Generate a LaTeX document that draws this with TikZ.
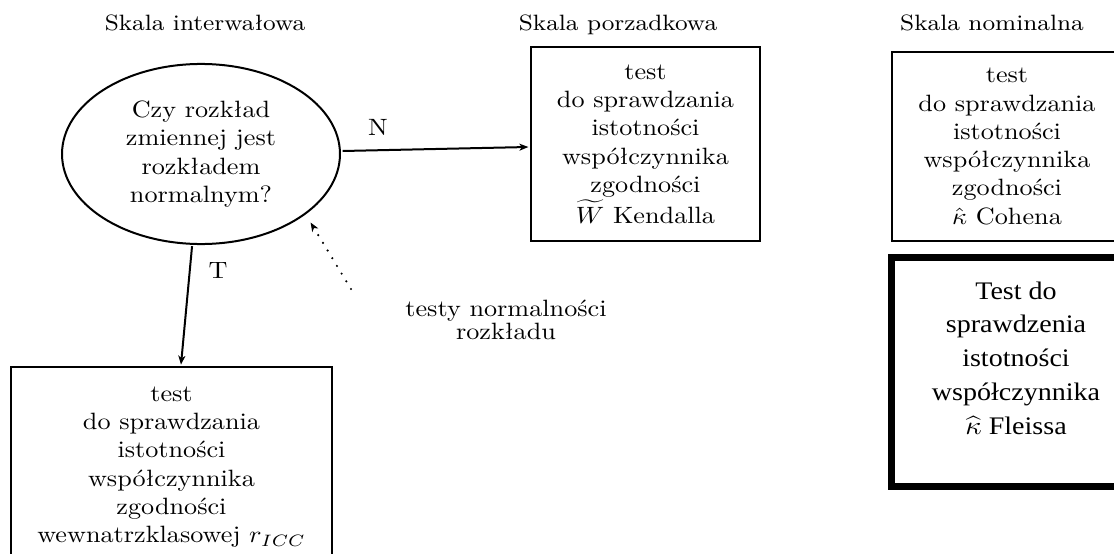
\documentclass[tikz,border=0pt]{standalone}
\usepackage{fontspec}
\usetikzlibrary{arrows.meta,shapes.geometric}
\newfontfamily\fleissfont{Liberation Serif}
\begin{document}
\begin{tikzpicture}[x=1pt,y=-1pt,
  stretched/.style={xscale=2.62,yscale=2.36},
  txt/.style={stretched,align=center,inner sep=0pt,font=\fontsize{10}{12}\selectfont},
  heading/.style={stretched,anchor=base,inner sep=0pt,font=\fontsize{9.4}{11}\selectfont},
  testbox/.style={txt,draw,rectangle,line width=2pt},
  flow/.style={line width=2pt,-{Stealth[length=9pt,width=7pt,inset=2.5pt]}},
  hint/.style={line width=2.4pt,line cap=round,dash pattern=on 0pt off 9pt,
    -{Stealth[length=9pt,width=7pt,inset=2.5pt]}},
]
\useasboundingbox (0,0) rectangle (1114,554);
\clip (0,0) rectangle (1114,554);

% column headings
\node[heading] (tint)  at (205,30) {Skala interwałowa};
\node[heading] (tporz) at (618,30) {Skala porzadkowa};
\node[heading] (tnom)  at (992,30) {Skala nominalna};

% decision
\node[txt,draw,ellipse,line width=2pt,minimum width=106.1pt,minimum height=76.3pt]
  (ell) at (201,154) {Czy rozkład\\ zmiennej jest\\ rozkładem\\ normalnym?};

% tests
\node[testbox,minimum width=87.4pt,minimum height=82.2pt] (porz) at (645.5,144)
  {test\\ do sprawdzania\\ istotności\\ współczynnika\\ zgodności\\ $\widetilde{W}$ Kendalla};
\node[testbox,minimum width=87.8pt,minimum height=80.1pt] (nom) at (1007,146.5)
  {test\\ do sprawdzania\\ istotności\\ współczynnika\\ zgodności\\ $\hat{\kappa}$ Cohena};
\node[testbox,minimum width=122.5pt,minimum height=84.7pt] (icc) at (171.5,467)
  {test\\ do sprawdzania\\ istotności\\ współczynnika\\ zgodności\\ wewnatrzklasowej $r_{ICC}$};

% Fleiss box: heavy frame with its own text block
\node[draw,rectangle,line width=6.5pt,minimum width=249pt,minimum height=229pt]
  (fleiss) at (1016,372) {};
\node[stretched,align=center,inner sep=0pt,font=\fleissfont\fontsize{10.7}{14.3}\selectfont]
  (fleisstxt) at (1016,358)
  {Test do\\ sprawdzenia\\ istotności\\ współczynnika\\ $\widehat{\kappa}$ Fleissa};

% branch labels and the normality-test hint
\node[txt] (nlab) at (378,127) {N};
\node[txt] (tlab) at (218,271) {T};
\node[txt,font=\fontsize{10}{8.8}\selectfont] (norm) at (506,320)
  {testy normalności\\ rozkładu};
\coordinate (hintstart) at (351,289);

% connectors
\draw[flow] ([yshift=3pt]ell.east) -- ([yshift=-3pt]porz.west);
\draw[flow] (ell.-95) -- ([xshift=9.5pt]icc.north);
\draw[hint,shorten >=8pt] (hintstart) -- (ell.-33);
\end{tikzpicture}
\end{document}
